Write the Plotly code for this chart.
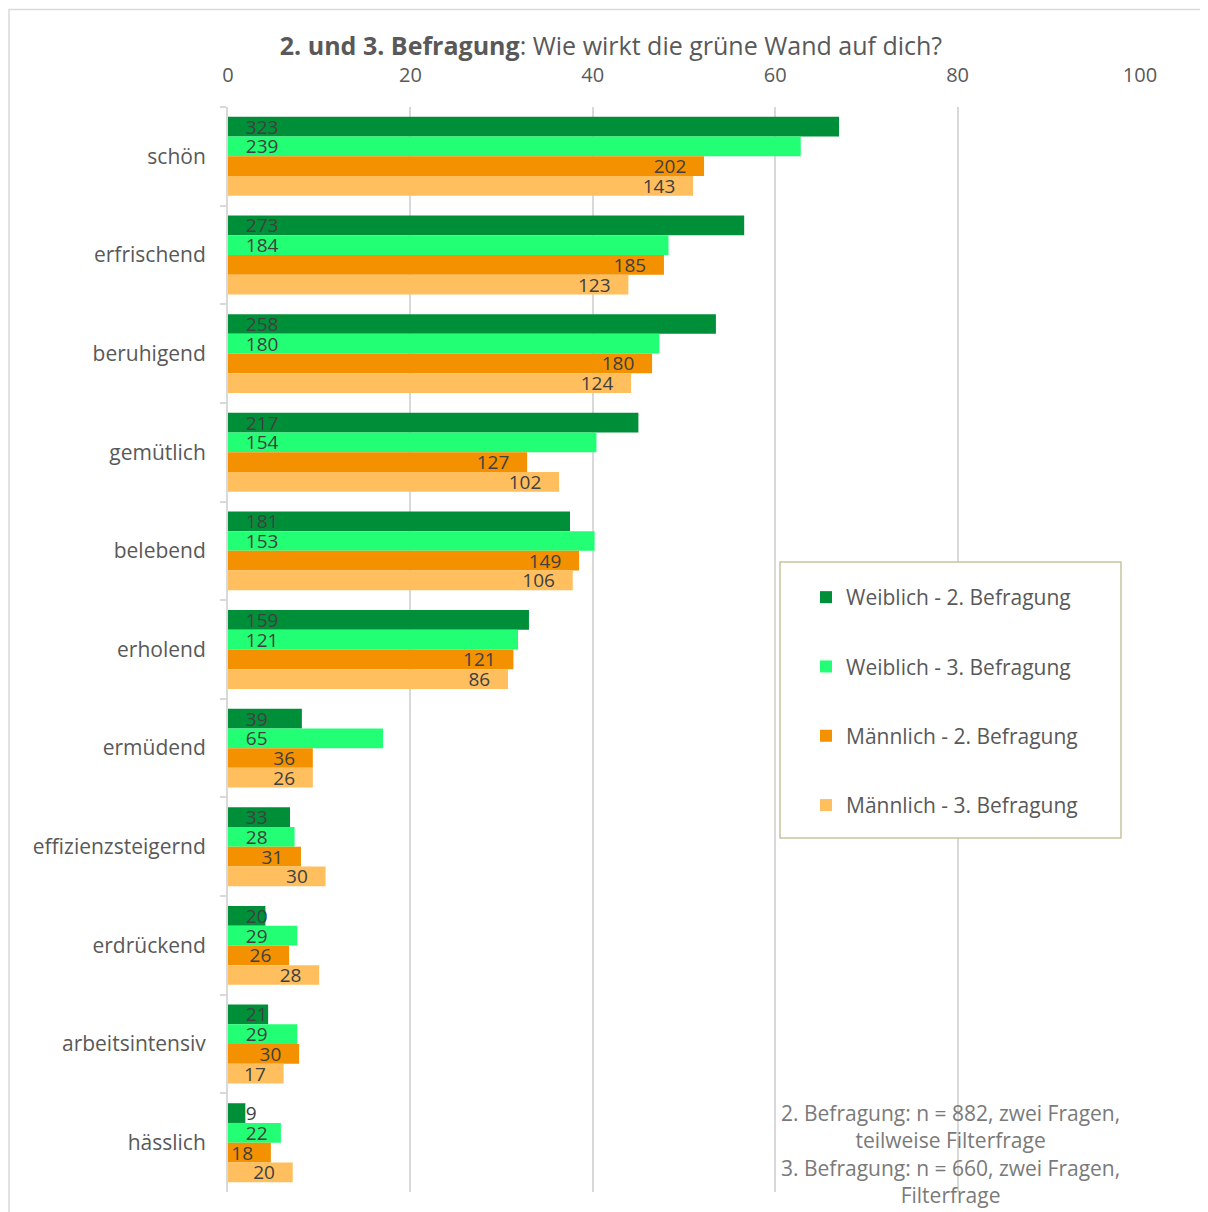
import plotly.graph_objects as go

categories = ["schön", "erfrischend", "beruhigend", "gemütlich", "belebend", "erholend",
              "ermüdend", "effizienzsteigernd", "erdrückend", "arbeitsintensiv", "hässlich"]

series_names = ["Weiblich - 2. Befragung", "Weiblich - 3. Befragung",
                "Männlich - 2. Befragung", "Männlich - 3. Befragung"]

# percentages (bar lengths)
w2_pct = [67.0, 56.6, 53.5, 45.0, 37.5, 33.0, 8.1, 6.8, 4.1, 4.4, 1.9]
w3_pct = [62.8, 48.3, 47.3, 40.4, 40.2, 31.8, 17.0, 7.3, 7.6, 7.6, 5.8]
m2_pct = [52.2, 47.8, 46.5, 32.8, 38.5, 31.3, 9.3, 8.0, 6.7, 7.8, 4.7]
m3_pct = [51.0, 43.9, 44.2, 36.3, 37.8, 30.7, 9.3, 10.7, 10.0, 6.1, 7.1]

# counts shown as data labels
w2_n = [323, 273, 258, 217, 181, 159, 39, 33, 20, 21, 9]
w3_n = [239, 184, 180, 154, 153, 121, 65, 28, 29, 29, 22]
m2_n = [202, 185, 180, 127, 149, 121, 36, 31, 26, 30, 18]
m3_n = [143, 123, 124, 102, 106, 86, 26, 30, 28, 17, 20]

x_ticks = [0, 20, 40, 60, 80, 100]

colors = ["#008F39", "#23FF74", "#F39100", "#FFBF5F"]
anchors = ["start", "start", "end", "end"]

FONT = "Open Sans"
OFF = 8  # page body margin offset
W, H = 1200, 1204
L, R, T, B = 220, 68, 99, 20
PW, PH = W - L - R, H - T - B


def px_x(p):
    return (p - OFF - L) / PW


def px_y(p):
    return (H - B - (p - OFF)) / PH


NB = "\u00a0"
fig = go.Figure()
for i, (name, pct, cnt) in enumerate(zip(series_names,
                                         [w2_pct, w3_pct, m2_pct, m3_pct],
                                         [w2_n, w3_n, m2_n, m3_n])):
    if anchors[i] == "start":
        texts = [NB * 3 + str(c) for c in cnt]
    else:
        texts = [str(c) + NB * 3 for c in cnt]
    fig.add_trace(go.Bar(
        name=name, y=categories, x=pct, orientation="h",
        marker=dict(color=colors[i], line=dict(width=0)),
        text=texts, textposition="inside", insidetextanchor=anchors[i],
        textangle=0, constraintext="none", cliponaxis=False,
        insidetextfont=dict(family=FONT, size=19, color="#404040"),
        legendgroup=f"g{i}",
        hoverinfo="skip",
    ))

fig.update_layout(
    width=W, height=H,
    margin=dict(l=L, r=R, t=T, b=B),
    paper_bgcolor="white", plot_bgcolor="white",
    barmode="group", bargap=0.2, bargroupgap=0.0,
    font=dict(family=FONT, color="#595959", size=20),
    title=dict(
        text="<b>2. und 3. Befragung</b>: Wie wirkt die grüne Wand auf dich?",
        x=(611 - OFF) / W, xref="container", xanchor="center",
        y=1 - (46 - OFF) / H, yref="container", yanchor="middle",
        font=dict(family=FONT, size=25, color="#595959"),
    ),
    xaxis=dict(
        side="top", range=[0, 100], tickvals=x_ticks,
        showgrid=True, gridcolor="#D9D9D9", gridwidth=2,
        zeroline=False, showline=False, ticks="",
        ticklabelstandoff=20,
        tickfont=dict(family=FONT, size=20, color="#595959"),
    ),
    yaxis=dict(
        autorange="reversed", showgrid=False, zeroline=False,
        showline=True, linecolor="#D9D9D9", linewidth=2,
        ticks="outside", tickson="boundaries", ticklen=6, tickcolor="#D9D9D9", tickwidth=2,
        ticklabelstandoff=16,
        tickfont=dict(family=FONT, size=21, color="#595959"),
    ),
    showlegend=True,
    legend=dict(
        x=px_x(806), xanchor="left", y=px_y(577), yanchor="top",
        bgcolor="rgba(0,0,0,0)", borderwidth=0,
        traceorder="grouped", tracegroupgap=39,
        font=dict(family=FONT, size=21, color="#595959"),
    ),
    shapes=[
        dict(type="rect", xref="paper", yref="paper",
             x0=px_x(780), x1=px_x(1121), y0=px_y(838), y1=px_y(562),
             line=dict(color="#C9C3A0", width=1.5), fillcolor="white", layer="above"),
        dict(type="rect", xref="paper", yref="paper",
             x0=px_x(9), x1=px_x(1205), y0=px_y(1230), y1=px_y(9.5),
             line=dict(color="#D9D9D9", width=1.5), fillcolor="rgba(0,0,0,0)", layer="below"),
    ],
    annotations=[
        dict(text="2. Befragung: n = 882, zwei Fragen,<br>teilweise Filterfrage<br>"
                  "3. Befragung: n = 660, zwei Fragen,<br>Filterfrage",
             xref="paper", yref="paper", x=px_x(950), y=px_y(1154),
             xanchor="center", yanchor="middle", showarrow=False, align="center",
             font=dict(family=FONT, size=21, color="#7A7A7A")),
    ],
)

fig.write_html("out.html")
